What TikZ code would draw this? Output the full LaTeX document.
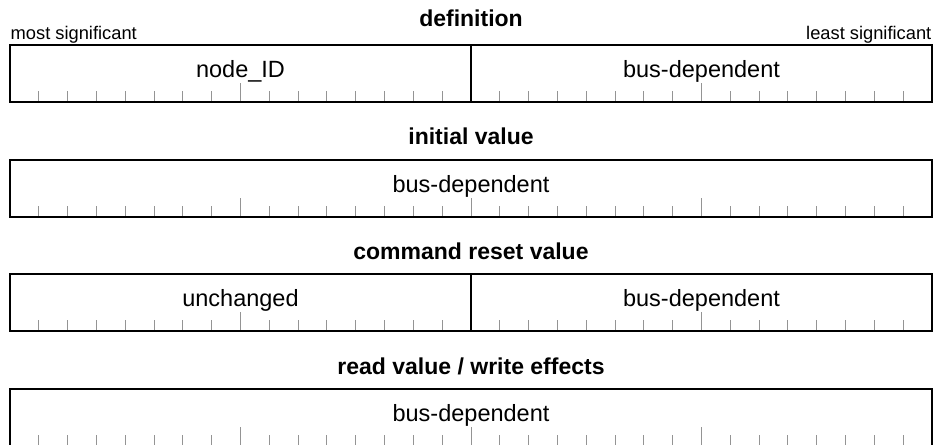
\documentclass[tikz,border=0pt]{standalone}
\usepackage{fontspec}
\setmainfont{Liberation Sans}
\begin{document}
\begin{tikzpicture}[x=1pt,y=-1pt,
  frame/.style={draw=black,line width=2pt},
  bittick/.style={draw=black!42,line width=1pt},
  regtitle/.style={font=\fontsize{23}{23}\selectfont\bfseries,anchor=base,inner sep=0pt},
  field/.style={font=\fontsize{23.5}{23.5}\selectfont,anchor=base,inner sep=0pt},
  endlabel/.style={font=\fontsize{18.3}{18.3}\selectfont,inner sep=0pt}]
\useasboundingbox (0,0) rectangle (933,444);

% one 32-bit register row: tick every bit, longer tick every byte
\foreach \top/\split [count=\r] in {45/1,159.7/0,274.3/1,389/0}{
  \foreach \k in {1,...,31}{
    \pgfmathsetmacro\tick{mod(\k,8)==0 ? 19 : 11}
    \draw[bittick] (10+\k*28.8125,\top+57) -- ++(0,-\tick);
  }
  \draw[frame] (10,\top) rectangle (932,\top+57);
  \ifnum\split=1
    \draw[frame] (471,\top) -- (471,\top+57);
  \fi
}

% register titles
\node[regtitle] (t1) at (471,26.7) {definition};
\node[regtitle] (t2) at (471,144.5) {initial value};
\node[regtitle] (t3) at (471,259) {command reset value};
\node[regtitle] (t4) at (471,374) {read value / write effects};

% bit order labels
\node[endlabel,anchor=base west] (msb) at (10.5,39.5) {most significant};
\node[endlabel,anchor=base east] (lsb) at (931.5,39.5) {least significant};

% field contents
\node[field] (f11) at (240.5,77.7) {node\_ID};
\node[field] (f12) at (701.5,77.7) {bus-dependent};
\node[field] (f21) at (471,192.2) {bus-dependent};
\node[field] (f31) at (240.5,306.9) {unchanged};
\node[field] (f32) at (701.5,306.9) {bus-dependent};
\node[field] (f41) at (471,421.7) {bus-dependent};
\end{tikzpicture}
\end{document}
